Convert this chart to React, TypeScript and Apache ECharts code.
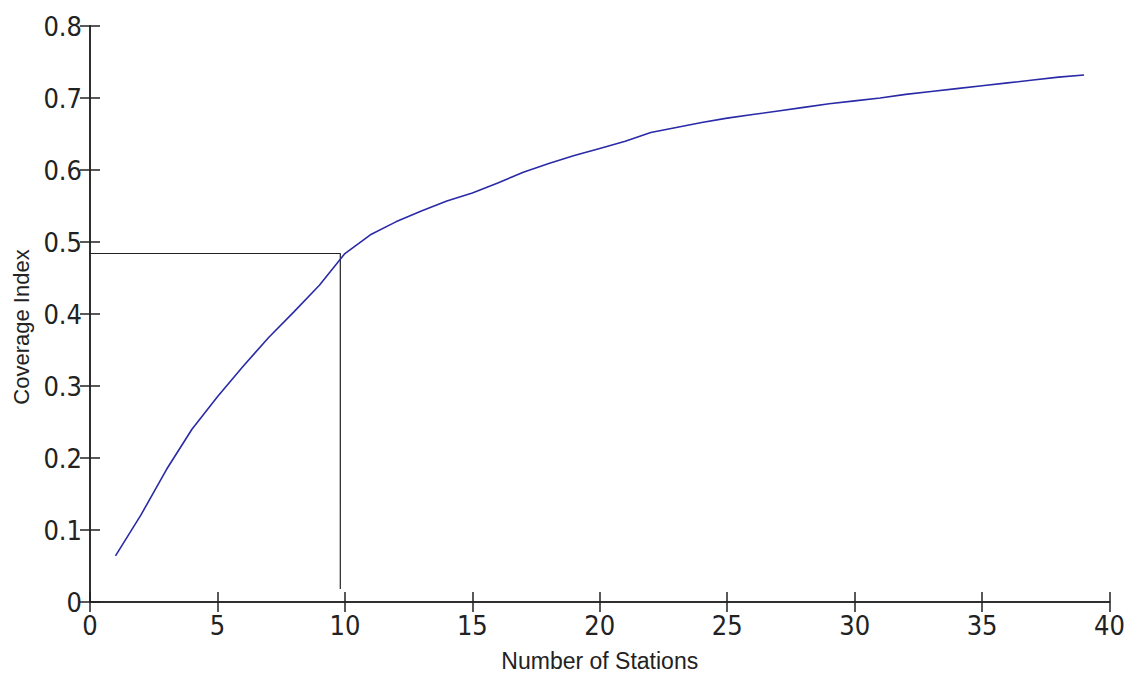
import React, { useEffect, useRef } from "react";
import * as echarts from "echarts";

const stations = [1, 2, 3, 4, 5, 6, 7, 8, 9, 10, 11, 12, 13, 14, 15, 16, 17, 18, 19, 20, 21, 22, 23, 24, 25, 26, 27, 28, 29, 30, 31, 32, 33, 34, 35, 36, 37, 38, 39];
const coverage = [0.064, 0.121, 0.184, 0.240, 0.285, 0.327, 0.367, 0.403, 0.440, 0.484, 0.510, 0.528, 0.543, 0.557, 0.568, 0.582, 0.597, 0.609, 0.620, 0.630, 0.640, 0.652, 0.659, 0.666, 0.672, 0.677, 0.682, 0.687, 0.692, 0.696, 0.700, 0.705, 0.709, 0.713, 0.717, 0.721, 0.725, 0.729, 0.732];
const guideX = [0, 9.82, 9.82];
const guideY = [0.484, 0.484, 0.018];
const xTicks = { min: 0, max: 40, interval: 5 };
const yTicks = { min: 0, max: 0.8, interval: 0.1 };

export default function App() {
  const ref = useRef<HTMLDivElement>(null);
  useEffect(() => {
    if (!ref.current) return;
    const chart = echarts.init(ref.current, null, { renderer: "svg" });
    const axisLine = { show: true, lineStyle: { color: "#222", width: 1.5 } };
    const tickStyle = { show: true, inside: true, length: 10, lineStyle: { color: "#222", width: 1.5 } };
    const labelFont = { fontFamily: "'Liberation Sans Narrow', 'DejaVu Sans Condensed', sans-serif", fontSize: 27, color: "#222" };
    chart.setOption({
      animation: false,
      backgroundColor: "#fff",
      grid: { left: 90, right: 16, top: 26, bottom: 74, containLabel: false },
      xAxis: [
        {
          type: "value", position: "bottom", ...xTicks,
          axisLine, axisTick: tickStyle, splitLine: { show: false },
          axisLabel: { ...labelFont, margin: 10 },
          name: "Number of Stations", nameLocation: "middle", nameGap: 47,
          nameTextStyle: { fontFamily: "'Liberation Sans', Arial, sans-serif", fontSize: 23, color: "#222" },
        },
        {
          type: "value", position: "top", ...xTicks,
          axisLine, axisTick: tickStyle, splitLine: { show: false }, axisLabel: { show: false },
        },
      ],
      yAxis: [
        {
          type: "value", position: "left", ...yTicks,
          axisLine, axisTick: tickStyle, splitLine: { show: false },
          axisLabel: { ...labelFont, margin: 8 },
          name: "Coverage Index", nameLocation: "middle", nameGap: 58,
          nameTextStyle: { fontFamily: "'Liberation Sans', Arial, sans-serif", fontSize: 22, color: "#222", padding: [0, 26, 0, 0] },
        },
        {
          type: "value", position: "right", ...yTicks,
          axisLine, axisTick: tickStyle, splitLine: { show: false }, axisLabel: { show: false },
        },
      ],
      series: [
        {
          type: "line",
          data: stations.map((s, i) => [s, coverage[i]]),
          showSymbol: false, symbol: "none",
          lineStyle: { color: "#2a2aa8", width: 1.6 },
          z: 3,
        },
        {
          type: "line",
          data: guideX.map((x, i) => [x, guideY[i]]),
          showSymbol: false, symbol: "none",
          lineStyle: { color: "#222", width: 1.2 },
          z: 2,
        },
      ],
    });
    return () => chart.dispose();
  }, []);
  return <div ref={ref} style={{ position: "fixed", left: 0, top: 0, width: 1128, height: 677 }} />;
}
